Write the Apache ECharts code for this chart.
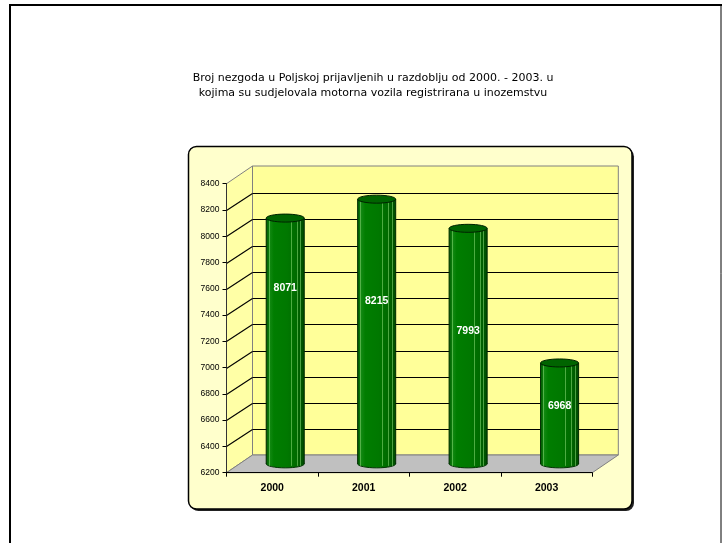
<!DOCTYPE html>
<html><head><meta charset="utf-8">
<script src="https://cdn.jsdelivr.net/npm/echarts@6/dist/echarts.min.js"></script>
<style>html,body{margin:0;padding:0;background:#fff}#c{width:722px;height:543px}</style>
</head><body><div id="c"></div>
<script>
const categories = ['2000', '2001', '2002', '2003'];
const values = [8071, 8215, 7993, 6968];
const yTicks = [6200, 6400, 6600, 6800, 7000, 7200, 7400, 7600, 7800, 8000, 8200, 8400];
const labelLevels = [7540, 7440, 7210, 6640];
const titleLines = [
  'Broj nezgoda u Poljskoj prijavljenih u razdoblju od 2000. - 2003. u',
  'kojima su sudjelovala motorna vozila registrirana u inozemstvu'
];

const DX = 26, DY = -17.7;
const px = v => Math.round(v) + 0.5;

function renderWalls(params, api) {
  const cs = params.coordSys;
  const v = api.value(1);
  const y = px(api.coord([0, v])[1]);
  const x0 = cs.x, x1 = cs.x + cs.width, yT = cs.y, yB = cs.y + cs.height;
  const ch = [];
  if (params.dataIndex === 0) {
    ch.push({type: 'rect', shape: {x: x0 + DX, y: yT + DY, width: cs.width, height: cs.height},
      style: {fill: '#FFFF99', stroke: '#808080', lineWidth: 1}});
    ch.push({type: 'polygon', shape: {points: [[x0, yT], [x0, yB], [x0 + DX, yB + DY], [x0 + DX, yT + DY]]},
      style: {fill: '#FFFFA6', stroke: '#808080', lineWidth: 1}});
    ch.push({type: 'polygon', shape: {points: [[x0, yB], [x1, yB], [x1 + DX, yB + DY], [x0 + DX, yB + DY]]},
      style: {fill: '#C0C0C0', stroke: '#808080', lineWidth: 1}});
  }
  if (v !== yTicks[0] && v !== yTicks[yTicks.length - 1]) {
    ch.push({type: 'line', shape: {x1: x0, y1: y, x2: x0 + DX, y2: px(y + DY)}, style: {stroke: '#000', lineWidth: 1.1}});
    ch.push({type: 'line', shape: {x1: x0 + DX, y1: px(y + DY), x2: x1 + DX, y2: px(y + DY)}, style: {stroke: '#000', lineWidth: 1}});
  }
  return {type: 'group', children: ch};
}

function renderCyl(params, api) {
  const i = api.value(0), v = api.value(1);
  const p = api.coord([i, v]);
  const pb = api.coord([i, yTicks[0]]);
  const bw = api.size([1, 0])[0];
  const rx = bw * 0.208, ry = 4;
  const cx = p[0] + DX / 2, yt = p[1] + DY / 2, yb = pb[1] + DY / 2;
  const grad = {type: 'linear', x: 0, y: 0, x2: 1, y2: 0, colorStops: [
    {offset: 0, color: '#005a00'}, {offset: 0.1, color: '#118811'}, {offset: 0.2, color: '#007d00'},
    {offset: 0.55, color: '#007800'}, {offset: 0.8, color: '#006a00'}, {offset: 1, color: '#004a00'}]};
  const ch = [];
  ch.push({type: 'ellipse', shape: {cx: cx, cy: yb, rx: rx, ry: ry}, style: {fill: grad, stroke: '#003300', lineWidth: 1}});
  ch.push({type: 'rect', shape: {x: cx - rx, y: yt, width: 2 * rx, height: yb - yt}, style: {fill: grad}});
  [0.07, 0.65, 0.8, 0.9].forEach(f => {
    const sx = Math.round(cx - rx + f * 2 * rx) + 0.5;
    ch.push({type: 'line', shape: {x1: sx, y1: yt + 2, x2: sx, y2: yb + 2}, style: {stroke: 'rgba(140,220,120,0.55)', lineWidth: 1}});
  });
  ch.push({type: 'line', shape: {x1: cx - rx, y1: yt, x2: cx - rx, y2: yb}, style: {stroke: '#002a00', lineWidth: 1}});
  ch.push({type: 'line', shape: {x1: cx + rx, y1: yt, x2: cx + rx, y2: yb}, style: {stroke: '#002a00', lineWidth: 1}});
  ch.push({type: 'ellipse', shape: {cx: cx, cy: yt, rx: rx, ry: ry}, style: {fill: '#006400', stroke: '#002200', lineWidth: 1}});
  const ly = api.coord([i, labelLevels[i]])[1] + DY / 2;
  ch.push({type: 'text', x: cx, y: ly, style: {text: String(v), fill: '#fff', align: 'center', verticalAlign: 'middle',
    font: 'bold 10.5px "Liberation Sans", Arial, sans-serif'}});
  return {type: 'group', children: ch};
}

const chart = echarts.init(document.getElementById('c'), null, {renderer: 'canvas'});
chart.setOption({
  animation: false,
  backgroundColor: '#fff',
  graphic: [
    {type: 'line', z: -20, shape: {x1: 9, y1: 5, x2: 722, y2: 5}, style: {stroke: '#000', lineWidth: 2}},
    {type: 'line', z: -20, shape: {x1: 10, y1: 4, x2: 10, y2: 543}, style: {stroke: '#000', lineWidth: 2}},
    {type: 'line', z: -20, shape: {x1: 721, y1: 4, x2: 721, y2: 543}, style: {stroke: '#000', lineWidth: 1}},
    {type: 'rect', z: -20, shape: {x: 190.5, y: 148.5, width: 443.5, height: 362.5, r: 8}, style: {fill: '#222'}},
    {type: 'rect', z: -19, shape: {x: 188.5, y: 146.5, width: 443.5, height: 362.5, r: 8},
      style: {fill: '#FFFFCC', stroke: '#000', lineWidth: 1.5}},
    {type: 'text', z: 50, x: 373, y: 70, style: {text: titleLines.join('\n'), align: 'center', verticalAlign: 'top',
      font: '11px "DejaVu Sans", Verdana, sans-serif', lineHeight: 15.5, fill: '#000'}}
  ],
  grid: {left: 226.5, top: 183.7, width: 365.8, height: 289, containLabel: false},
  xAxis: {type: 'category', data: categories, z: 10,
    axisLine: {lineStyle: {color: '#000', width: 1}},
    axisTick: {show: true, length: 4, lineStyle: {color: '#000'}},
    axisLabel: {color: '#000', fontFamily: '"Liberation Sans", Arial, sans-serif', fontWeight: 'bold', fontSize: 10.5, margin: 10},
    splitLine: {show: false}},
  yAxis: {type: 'value', min: yTicks[0], max: yTicks[yTicks.length - 1], interval: yTicks[1] - yTicks[0], z: 10,
    axisLine: {show: true, lineStyle: {color: '#333', width: 1}},
    axisTick: {show: true, length: 4, lineStyle: {color: '#000'}},
    axisLabel: {color: '#000', fontFamily: '"Liberation Sans", Arial, sans-serif', fontSize: 8.5, margin: 7,
      formatter: v => String(v)},
    splitLine: {show: false}},
  series: [
    {type: 'custom', z: 1, silent: true, data: yTicks.map(v => [0, v]), encode: {x: 0, y: 1}, renderItem: renderWalls, clip: false},
    {type: 'custom', z: 3, silent: true, data: values.map((v, i) => [i, v]), encode: {x: 0, y: 1}, renderItem: renderCyl, clip: false}
  ]
});
</script></body></html>
